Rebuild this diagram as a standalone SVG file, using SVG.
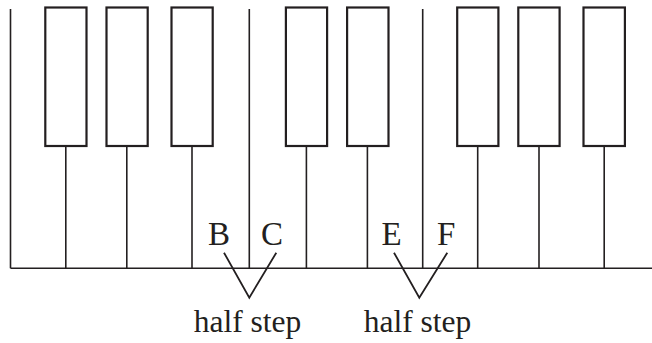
<svg xmlns="http://www.w3.org/2000/svg" width="652" height="343" viewBox="0 0 652 343">
<style>
.bk{fill:#fff;stroke:#231f20;stroke-width:2.2}
.ln{stroke:#231f20;stroke-width:1.6;fill:none}
.v{stroke:#231f20;stroke-width:1.8;fill:none}
.t{font-family:"Liberation Serif","Times New Roman",serif;fill:#231f20}
.n{font-size:33px}
.h{font-size:31.5px}
</style>
<rect width="652" height="343" fill="#fff"/>
<g id="connectors">
<line class="ln" x1="10.5" y1="268.3" x2="652" y2="268.3"/>
<line class="ln" x1="10.5" y1="9" x2="10.5" y2="268.3"/>
<line class="ln" x1="249.3" y1="9" x2="249.3" y2="268.3"/>
<line class="ln" x1="422.7" y1="9" x2="422.7" y2="268.3"/>
<line class="ln" x1="65.8" y1="146" x2="65.8" y2="268.3"/>
<line class="ln" x1="126.8" y1="146" x2="126.8" y2="268.3"/>
<line class="ln" x1="192" y1="146" x2="192" y2="268.3"/>
<line class="ln" x1="306.4" y1="146" x2="306.4" y2="268.3"/>
<line class="ln" x1="367.4" y1="146" x2="367.4" y2="268.3"/>
<line class="ln" x1="477.7" y1="146" x2="477.7" y2="268.3"/>
<line class="ln" x1="539" y1="146" x2="539" y2="268.3"/>
<line class="ln" x1="604.2" y1="146" x2="604.2" y2="268.3"/>
<polyline class="v" points="224,252.7 249.3,297.7 276.3,252.7"/>
<polyline class="v" points="394,252.7 419.3,297.7 447.3,252.7"/>
</g>
<g id="black-key-1"><rect class="bk" x="45.3" y="7.5" width="41.2" height="138.5"/></g>
<g id="black-key-2"><rect class="bk" x="106.5" y="7.5" width="41.2" height="138.5"/></g>
<g id="black-key-3"><rect class="bk" x="171.5" y="7.5" width="41.2" height="138.5"/></g>
<g id="black-key-4"><rect class="bk" x="285.9" y="7.5" width="41.2" height="138.5"/></g>
<g id="black-key-5"><rect class="bk" x="347.1" y="7.5" width="41.4" height="138.5"/></g>
<g id="black-key-6"><rect class="bk" x="457.2" y="7.5" width="41.2" height="138.5"/></g>
<g id="black-key-7"><rect class="bk" x="518.3" y="7.5" width="41.3" height="138.5"/></g>
<g id="black-key-8"><rect class="bk" x="583.5" y="7.5" width="41.4" height="138.5"/></g>
<g id="label-B"><text class="t n" x="208" y="245">B</text></g>
<g id="label-C"><text class="t n" x="261" y="245">C</text></g>
<g id="label-E"><text class="t n" x="381.5" y="245">E</text></g>
<g id="label-F"><text class="t n" x="437" y="245">F</text></g>
<g id="label-half-step-1"><text class="t h" x="247.5" y="332" text-anchor="middle">half step</text></g>
<g id="label-half-step-2"><text class="t h" x="417.5" y="332" text-anchor="middle">half step</text></g>
</svg>
